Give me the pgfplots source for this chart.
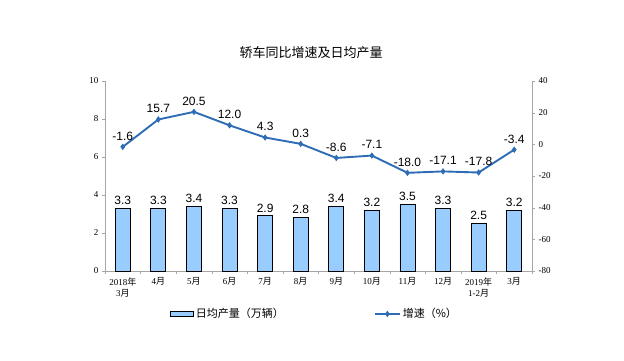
\documentclass[border=0pt]{standalone}
\usepackage{pgfplots}
\pgfplotsset{compat=1.18}
\usepackage{fontspec}
\setmainfont{Liberation Serif}
\setsansfont{Liberation Sans}
\newfontfamily\cjk{Noto Sans CJK SC}
\definecolor{barblue}{HTML}{99CCFF}
\definecolor{lineblue}{HTML}{2E6DB5}
\definecolor{axgray}{HTML}{A6A6A6}
\pgfplotsset{
  mylineleg/.style={legend image code/.code={\draw[mark repeat=2,mark phase=2,##1] plot coordinates {(0pt,0pt)(12.5pt,0pt)(25pt,0pt)};}},
  mybarleg/.style={legend image code/.code={\draw[fill=barblue,draw=black,line width=0.8pt] (0pt,-2.5pt) rectangle (23pt,2.5pt);}},
}
\begin{document}
\begin{tikzpicture}[x=1pt,y=1pt]
\path[use as bounding box] (0,0) rectangle (624,361);
\node[font=\cjk\fontsize{13}{15}\selectfont] at (311,308) {轿车同比增速及日均产量};
\begin{axis}[
  at={(105pt,90pt)}, anchor=south west, scale only axis,
  width=427pt, height=190pt,
  xmin=-0.5, xmax=11.5, ymin=0, ymax=10,
  ytick={0,2,...,10},
  axis y line*=left, axis x line*=bottom,
  axis line style={axgray, line width=0.8pt},
  xtick={0,...,11},
  xticklabels={{2018{\cjk 年}\\3{\cjk 月}},{4{\cjk 月}},{5{\cjk 月}},{6{\cjk 月}},{7{\cjk 月}},{8{\cjk 月}},{9{\cjk 月}},{10{\cjk 月}},{11{\cjk 月}},{12{\cjk 月}},{2019{\cjk 年}\\1-2{\cjk 月}},{3{\cjk 月}}},
  xticklabel style={align=center, font=\fontsize{9}{11}\selectfont},
  yticklabel style={font=\fontsize{9}{11}\selectfont},
  /pgf/number format/assume math mode=true,
  major x tick style={draw=none},
  minor xtick={-0.5,0.5,...,11.5},
  minor x tick style={axgray},
  minor tick length=3pt,
  major tick length=3pt,
  tick align=outside,
  y tick style={axgray},
  clip=false,
]
\addplot[ybar, bar width=15pt, fill=barblue, draw=black, line width=0.8pt,
  nodes near coords,
  nodes near coords style={font=\sffamily\fontsize{12}{13}\selectfont, black, /pgf/number format/fixed, /pgf/number format/precision=1, /pgf/number format/fixed zerofill},
] coordinates {(0,3.3)(1,3.3)(2,3.4)(3,3.3)(4,2.9)(5,2.8)(6,3.4)(7,3.2)(8,3.5)(9,3.3)(10,2.5)(11,3.2)};
\end{axis}
\begin{axis}[
  at={(105pt,90pt)}, anchor=south west, scale only axis,
  width=427pt, height=190pt,
  xmin=-0.5, xmax=11.5, ymin=-80, ymax=40,
  ytick={-80,-60,...,40},
  axis y line*=right, axis x line=none,
  axis line style={axgray, line width=0.8pt},
  yticklabel style={font=\fontsize{9}{11}\selectfont},
  /pgf/number format/assume math mode=true,
  major tick length=3pt,
  tick align=outside,
  y tick style={axgray},
  clip=false,
  legend style={at={(0.152,-0.226)}, anchor=west, draw=none, fill=none,
    legend columns=2, font=\cjk\fontsize{11}{12}\selectfont,
    /tikz/every even column/.append style={column sep=88pt},
    inner sep=0pt},
  legend cell align=left,
]
\addlegendimage{mybarleg}
\addlegendentry{日均产量（万辆）}
\addplot[lineblue, line width=1.9pt, mark=diamond*, mark size=2.8pt,
  mark options={fill=lineblue, line width=0.5pt},
  mylineleg,
  nodes near coords,
  every node near coord/.append style={anchor=south},
  nodes near coords style={font=\sffamily\fontsize{12}{13}\selectfont, black, /pgf/number format/fixed, /pgf/number format/precision=1, /pgf/number format/fixed zerofill, anchor=south, yshift=3pt},
] coordinates {(0,-1.6)(1,15.7)(2,20.5)(3,12.0)(4,4.3)(5,0.3)(6,-8.6)(7,-7.1)(8,-18.0)(9,-17.1)(10,-17.8)(11,-3.4)};
\addlegendentry{增速（\%）}
\end{axis}
\end{tikzpicture}
\end{document}
